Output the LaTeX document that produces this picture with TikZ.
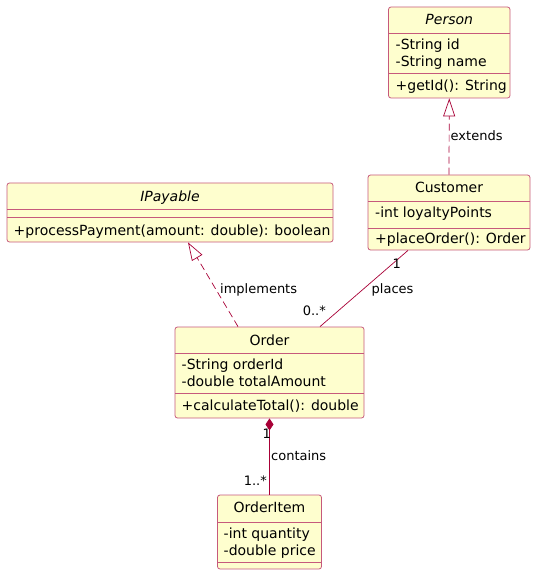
\documentclass[tikz,border=0pt]{standalone}
\usepackage{fontspec}
\setmainfont{DejaVu Sans}
\usetikzlibrary{arrows.meta,calc}
\definecolor{umlfill}{HTML}{FEFECE}
\definecolor{umlline}{HTML}{A80036}
\colorlet{umlborder}{umlline!65!white}
\begin{document}
\begin{tikzpicture}[x=1pt,y=-1pt,
  classbox/.style={draw=umlborder, fill=umlfill, rounded corners=2.5pt, line width=0.8pt, inner sep=0pt},
  sepline/.style={draw=umlborder, line width=0.8pt},
  member/.style={anchor=base west, inner sep=0pt, font=\fontsize{14}{16}\selectfont},
  ctitle/.style={anchor=base, inner sep=0pt, font=\fontsize{14}{16}\selectfont},
  lbl/.style={anchor=base west, inner sep=0pt, font=\fontsize{13}{15}\selectfont},
  conn/.style={color=umlline, draw=umlline, line width=0.7pt},
  dashconn/.style={conn, dash pattern=on 7pt off 4pt},
  hollow/.style={-{Triangle[length=18pt,width=12pt,fill=white]}},
  compo/.style={{Diamond[length=12pt,width=8pt,color=umlline,fill=umlline]}-},
]
\useasboundingbox (0,0) rectangle (545,585);

% Person
\node[classbox, minimum width=121.5pt, minimum height=91pt] (person) at (449.25,52.5) {};
\draw[sepline] (388.5,33) -- (510,33);
\draw[sepline] (388.5,73) -- (510,73);
\node[ctitle] (personT) at (449.25,25) {\itshape Person};
\node[member] (personA1) at (395.5,49.5) {-String id};
\node[member] (personA2) at (395.5,66.5) {-String name};
\node[member] (personM1) at (395.5,90.5) {+getId(): String};

% Customer
\node[classbox, minimum width=162pt, minimum height=75pt] (customer) at (449,212.5) {};
\draw[sepline] (368,201) -- (530,201);
\draw[sepline] (368,228) -- (530,228);
\node[ctitle] (customerT) at (449,193) {Customer};
\node[member] (customerA1) at (375,217) {-int loyaltyPoints};
\node[member] (customerM1) at (375,243) {+placeOrder(): Order};

% IPayable
\node[classbox, minimum width=326pt, minimum height=59pt] (ipay) at (170,212.5) {};
\draw[sepline] (7,209) -- (333,209);
\draw[sepline] (7,217) -- (333,217);
\node[ctitle] (ipayT) at (170,201.5) {\itshape IPayable};
\node[member] (ipayM1) at (13.5,235) {+processPayment(amount: double): boolean};

% Order
\node[classbox, minimum width=189pt, minimum height=91pt] (order) at (269.5,372.5) {};
\draw[sepline] (175,353) -- (364,353);
\draw[sepline] (175,393) -- (364,393);
\node[ctitle] (orderT) at (269.5,345) {Order};
\node[member] (orderA1) at (181.5,369.3) {-String orderId};
\node[member] (orderA2) at (181.5,386.7) {-double totalAmount};
\node[member] (orderM1) at (181.5,410.7) {+calculateTotal(): double};

% OrderItem
\node[classbox, minimum width=104pt, minimum height=74pt] (item) at (269.5,532) {};
\draw[sepline] (217.5,522) -- (321.5,522);
\draw[sepline] (217.5,562) -- (321.5,562);
\node[ctitle] (itemT) at (269.5,512.7) {OrderItem};
\node[member] (itemA1) at (223.5,538.3) {-int quantity};
\node[member] (itemA2) at (223.5,555) {-double price};

% connectors
\draw[dashconn, hollow] (customer.north) -- (person.south);
\node[lbl] (extendsL) at (450.5,140.5) {extends};

\draw[dashconn, hollow] ($(order.north)+(-31.5,0)$) -- ($(ipay.south)+(18,0)$);
\node[lbl] (implL) at (220,293) {implements};

\draw[conn] ($(customer.south)+(-41,0)$) -- ($(order.north)+(50.5,0)$);
\node[lbl] (placesOne) at (392.5,268.3) {1};
\node[lbl] (placesL) at (371.5,293.3) {places};
\node[lbl, anchor=base east] (placesMany) at (326,315) {0..*};

\draw[conn, compo] (order.south) -- (item.north);
\node[lbl] (containsOne) at (262.5,438.3) {1};
\node[lbl] (containsL) at (271,460.7) {contains};
\node[lbl, anchor=base east] (containsMany) at (267,485) {1..*};
\end{tikzpicture}
\end{document}
